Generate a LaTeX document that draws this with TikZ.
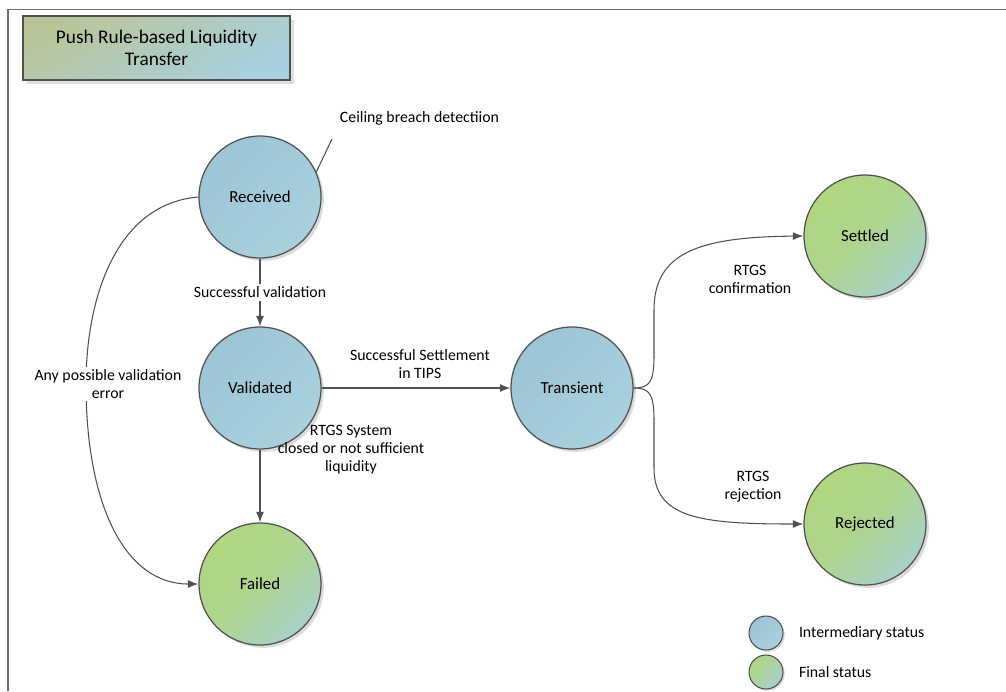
\documentclass[tikz,border=0pt]{standalone}
\usepackage{fontspec}
\setmainfont{Carlito}
\usetikzlibrary{arrows.meta,shadows,positioning}

\definecolor{framegray}{HTML}{6E6E6E}
\definecolor{edgegray}{HTML}{505050}
\definecolor{blueA}{HTML}{9CC5D5}
\definecolor{blueB}{HTML}{A9D0DD}
\definecolor{greenA}{HTML}{B0D67F}
\definecolor{greenB}{HTML}{A8D0CB}
\definecolor{oliveA}{HTML}{B9C598}
\definecolor{oliveB}{HTML}{A8D0DE}

\begin{document}
\begin{tikzpicture}[
        x=0.02cm, y=-0.02cm,
        state/.style={circle, draw=edgegray, line width=0.7pt, minimum size=2.44cm,
            inner sep=0pt, font=\fontsize{9.6}{11}\selectfont,
            drop shadow={shadow xshift=1.6pt, shadow yshift=-1.6pt, fill=black!35, opacity=0.4}},
        intermediary/.style={state, top color=blueA, bottom color=blueB, shading angle=45},
        final/.style={state, top color=greenA, bottom color=greenB, middle color=greenA!80!greenB, shading angle=45},
        lbl/.style={align=center, font=\fontsize{9}{10.2}\selectfont, inner sep=1.5pt},
        flow/.style={draw=edgegray, line width=0.6pt, -{Latex[length=6pt, width=4.5pt]}},
        keybox/.style={circle, draw=edgegray, line width=0.6pt, minimum size=0.68cm, inner sep=0pt,
            drop shadow={shadow xshift=1pt, shadow yshift=-1pt, fill=black!35, opacity=0.4}}]

    \useasboundingbox (0,0) rectangle (1006,691);
    \fill[white] (0,0) rectangle (1006,691);

    % frame
    \draw[framegray, line width=1.1pt] (8,691) -- (8,9.5) -- (1006,9.5);

    % NODES
    % title
    \node[draw=edgegray, line width=0.6pt, minimum width=5.34cm, minimum height=1.28cm,
        align=center, font=\fontsize{11}{12.5}\selectfont,
        top color=oliveA, bottom color=oliveB, shading angle=30,
        drop shadow={shadow xshift=2.5pt, shadow yshift=-2.5pt, fill=black!30, opacity=0.4}]
        (title) at (156.5,48) {Push Rule-based Liquidity\\Transfer};
    % received
    \node[intermediary] (rec) at (260,197) {Received};
    % validated
    \node[intermediary] (val) at (260,388) {Validated};
    % failed
    \node[final] (fail) at (260,584) {Failed};
    % transient
    \node[intermediary] (tra) at (572,388) {Transient};
    % settled
    \node[final] (sett) at (865,236) {Settled};
    % rejected
    \node[final] (rej) at (865,524) {Rejected};
    % ceiling breach note
    \node[lbl, anchor=west] (breach) at (337,118) {Ceiling breach detectiion};
    \coordinate (brk) at (332,139);

    % legend
    \node[keybox, top color=blueA, bottom color=blueB, shading angle=45] (keyint) at (766,633) {};
    \node[keybox, top color=greenA, bottom color=greenB, shading angle=45] (keyfin) at (766,672) {};
    \node[lbl, anchor=west] (keyinttxt) at (796,633) {Intermediary status};
    \node[lbl, anchor=west] (keyfintxt) at (796,672) {Final status};

    % ARROWS
    \draw[edgegray, line width=0.6pt] (rec.24) -- (brk);
    \draw[flow] (rec) -- (val) node[lbl, midway, fill=white] {Successful validation};
    \draw[flow] (val) -- (fail);
    \node[lbl] (closed) at (351,450) {RTGS System\\closed or not sufficient\\liquidity};
    \draw[flow] (val) -- (tra);
    \node[lbl] (tips) at (420,364) {Successful Settlement\\in TIPS};
    \draw[flow] (rec.west) .. controls (115,204) and (86,300) .. (86,384)
        .. controls (86,505) and (125,584) .. (fail.west);
    \node[lbl, fill=white] (anyerr) at (108,384) {Any possible validation\\error};
    \draw[flow] (tra.east) .. controls (650,388) and (654,382) .. (654,355)
        -- (654,310) .. controls (654,252) and (700,237) .. (sett.west);
    \node[lbl] (conf) at (750,279) {RTGS\\confirmation};
    \draw[flow] (tra.east) .. controls (650,388) and (654,394) .. (654,421)
        -- (654,468) .. controls (654,518) and (700,524) .. (rej.west);
    \node[lbl] (rejtxt) at (753,487) {RTGS\\rejection};
\end{tikzpicture}
\end{document}
